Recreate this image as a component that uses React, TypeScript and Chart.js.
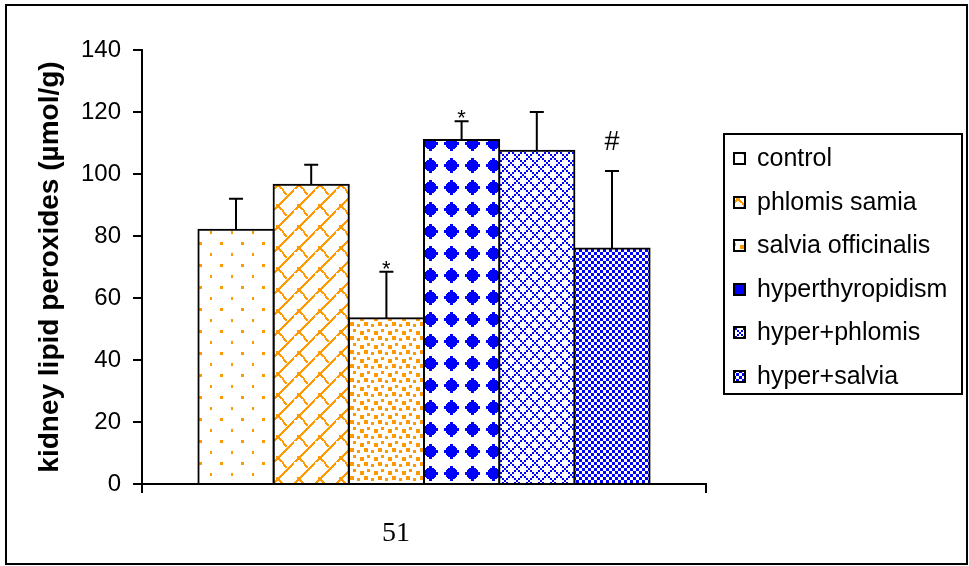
import React, { useEffect, useRef } from 'react';
import { Chart, registerables } from 'chart.js';

Chart.register(...registerables);

// ---- data ----
const categories = [''];
const groups = ['control', 'phlomis samia', 'salvia officinalis', 'hyperthyropidism', 'hyper+phlomis', 'hyper+salvia'];
const means = [82, 96.5, 53.5, 111, 107.5, 76];
const errors = [10, 6.5, 15, 6, 12.5, 25];
const marks = ['', '', '*', '*', '', '#'];
const yMin = 0;
const yMax = 140;
const yStep = 20;
const yTitle = 'kidney lipid peroxides (µmol/g)';
const pageNumber = '51';

// ---- styles ----
const ORANGE = '#FF9900';
const BLUE = '#0000FF';
const SANS = '"Liberation Sans", Arial, sans-serif';
const SERIF = '"Liberation Serif", "Times New Roman", serif';
const legendTileOffsets = [[0, 0], [0, 14], [3, 3], [4, 5], [0, 0], [0, 0]];

function tile(w: number, h: number, draw: (c: CanvasRenderingContext2D) => void): CanvasPattern {
  const cv = document.createElement('canvas');
  cv.width = w;
  cv.height = h;
  const c = cv.getContext('2d')!;
  c.fillStyle = '#fff';
  c.fillRect(0, 0, w, h);
  draw(c);
  return c.createPattern(cv, 'repeat')!;
}

function makePatterns(): CanvasPattern[] {
  const control = tile(21, 22, (c) => {
    c.fillStyle = ORANGE;
    c.fillRect(10, 0, 3, 3);
    c.fillRect(0, 11, 2, 3);
  });
  const phlomis = tile(21, 21, (c) => {
    c.fillStyle = ORANGE;
    for (let x = 0; x < 21; x++) c.fillRect(x, 20 - x, 2, 2);
    for (let k = 0; k < 10; k++) {
      const x = 3 + k;
      const y = (15 + k + (k > 6 ? 1 : 0)) % 21;
      c.fillRect(x, y, 2, 2);
    }
  });
  const salvia = tile(14, 14, (c) => {
    c.fillStyle = ORANGE;
    c.fillRect(0, 0, 4, 4);
    c.fillRect(7, 2, 3, 3);
    c.fillRect(3, 7, 3, 3);
    c.fillRect(10, 9, 4, 4);
  });
  const hyper = tile(21, 22, (c) => {
    c.fillStyle = BLUE;
    const cx = 10, cy = 11;
    const hws = [7, 7, 5, 5, 4, 3, 1, 1];
    for (let dy = -7; dy <= 7; dy++) {
      const hw = hws[Math.abs(dy)];
      c.fillRect(cx - hw, cy + dy, hw * 2 + 1, 1);
    }
  });
  const hyperPhlomis = tile(12, 12, (c) => {
    c.fillStyle = BLUE;
    const tri = [0, 1, 2, 3, 2, 1];
    for (let i = 0; i < 6; i++) {
      c.fillRect(i * 2, tri[i] * 2, 2, 2);
      c.fillRect(i * 2, ((3 - tri[i]) * 2 + 6) % 12, 2, 2);
    }
  });
  const hyperSalvia = tile(6, 6, (c) => {
    c.fillStyle = BLUE;
    c.fillRect(0, 0, 3, 3);
    c.fillRect(3, 3, 3, 3);
  });
  return [control, phlomis, salvia, hyper, hyperPhlomis, hyperSalvia];
}

const backgroundPlugin = {
  id: 'bgFrame',
  beforeDraw(chart: any) {
    const ctx = chart.ctx;
    ctx.save();
    ctx.fillStyle = '#fff';
    ctx.fillRect(0, 0, chart.width, chart.height);
    ctx.restore();
  },
  afterDraw(chart: any) {
    const ctx = chart.ctx;
    ctx.save();
    ctx.strokeStyle = '#000';
    ctx.lineWidth = 2;
    ctx.strokeRect(6, 5, 961, 559);
    ctx.fillStyle = '#000';
    ctx.font = '28px ' + SERIF;
    ctx.textAlign = 'center';
    ctx.textBaseline = 'alphabetic';
    ctx.fillText(pageNumber, 396, 541);
    ctx.restore();
  },
};

const errorBarPlugin = {
  id: 'errorBars',
  afterDatasetsDraw(chart: any) {
    const ctx = chart.ctx;
    const y = chart.scales.y;
    ctx.save();
    ctx.strokeStyle = '#000';
    ctx.lineWidth = 2;
    chart.data.datasets.forEach((ds: any, i: number) => {
      const meta = chart.getDatasetMeta(i);
      const bar = meta.data[0];
      if (!bar) return;
      const v = means[i];
      const top = y.getPixelForValue(v + errors[i]);
      const base = y.getPixelForValue(v);
      ctx.beginPath();
      ctx.moveTo(bar.x, base);
      ctx.lineTo(bar.x, top);
      ctx.moveTo(bar.x - 7, top);
      ctx.lineTo(bar.x + 7, top);
      ctx.stroke();
      const m = marks[i];
      if (m) {
        ctx.fillStyle = '#000';
        ctx.textAlign = 'center';
        ctx.textBaseline = 'alphabetic';
        if (m === '*') {
          ctx.font = '22px ' + SANS;
          ctx.fillText(m, bar.x, top + 4);
        } else {
          ctx.font = '27px ' + SANS;
          ctx.fillText(m, bar.x, top - 21);
        }
      }
    });
    ctx.restore();
  },
};

const legendPlugin = {
  id: 'boxLegend',
  afterDraw(chart: any) {
    const ctx = chart.ctx;
    const L = 724, T = 134, W = 238, H = 260;
    ctx.save();
    ctx.fillStyle = '#fff';
    ctx.fillRect(L, T, W, H);
    ctx.strokeStyle = '#000';
    ctx.lineWidth = 2;
    ctx.strokeRect(L, T, W, H);
    chart.data.datasets.forEach((ds: any, i: number) => {
      const cy = Math.round(158 + i * 43.6);
      const [ox, oy] = legendTileOffsets[i];
      ctx.save();
      ctx.translate(733 - ox, cy - 6 - oy);
      ctx.fillStyle = ds.backgroundColor;
      ctx.fillRect(ox, oy, 13, 13);
      ctx.lineWidth = 2;
      ctx.strokeStyle = '#000';
      ctx.strokeRect(ox + 1, oy + 1, 11, 11);
      ctx.restore();
      ctx.fillStyle = '#000';
      ctx.font = '25px ' + SANS;
      ctx.textAlign = 'left';
      ctx.textBaseline = 'middle';
      ctx.fillText(ds.label, 757, cy + 1);
    });
    ctx.restore();
  },
};

export default function App() {
  const ref = useRef<HTMLCanvasElement | null>(null);

  useEffect(() => {
    if (!ref.current) return;
    const patterns = makePatterns();
    const chart = new Chart(ref.current, {
      type: 'bar',
      data: {
        labels: categories,
        datasets: groups.map((g, i) => ({
          label: g,
          data: [means[i]],
          backgroundColor: patterns[i] as any,
          borderColor: '#000',
          borderWidth: 2,
          inflateAmount: 1,
          categoryPercentage: 0.8,
          barPercentage: 1.0,
        })),
      },
      options: {
        responsive: false,
        animation: false,
        devicePixelRatio: 1,
        layout: { padding: { left: 0, top: 50, right: 263, bottom: 73 } },
        plugins: {
          legend: { display: false },
          tooltip: { enabled: false },
        },
        scales: {
          x: {
            z: 1,
            border: { display: true, color: '#000', width: 2 },
            grid: {
              display: true,
              drawOnChartArea: false,
              drawTicks: true,
              tickLength: 9,
              offset: true,
              color: '#000',
              lineWidth: 2,
            },
            ticks: { display: false },
            afterFit: (s: any) => {
              s.height = 9;
            },
          },
          y: {
            z: 1,
            min: yMin,
            max: yMax,
            border: { display: true, color: '#000', width: 2 },
            grid: {
              display: true,
              drawOnChartArea: false,
              drawTicks: true,
              tickLength: 9,
              color: '#000',
              lineWidth: 2,
            },
            ticks: {
              stepSize: yStep,
              color: '#000',
              padding: 12,
              font: { family: SANS, size: 24 },
            },
            title: {
              display: true,
              text: yTitle,
              color: '#000',
              font: { family: SANS, size: 28, weight: 'bold' },
              padding: { top: 33, bottom: 0 },
            },
            afterFit: (s: any) => {
              s.width = 142;
            },
          },
        },
      },
      plugins: [backgroundPlugin, errorBarPlugin, legendPlugin],
    });
    return () => chart.destroy();
  }, []);

  return (
    <div style={{ position: 'fixed', left: 0, top: 0, width: 969, height: 566 }}>
      <canvas ref={ref} width={969} height={566} style={{ display: 'block' }} />
    </div>
  );
}
